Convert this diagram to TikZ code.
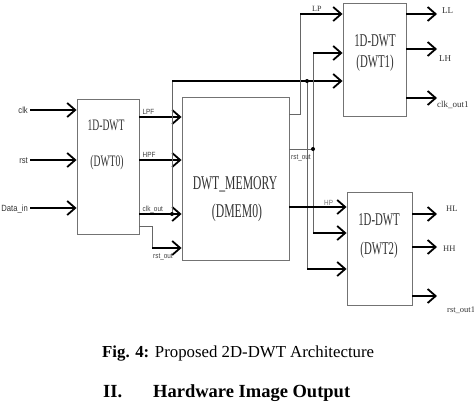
\documentclass[tikz,border=0pt]{standalone}
\usepackage{fontspec}
\setmainfont{Liberation Serif}
\newfontfamily\blkfont[FakeStretch=0.6]{Liberation Serif}
\newfontfamily\pinfont[FakeStretch=0.85]{Liberation Sans}
\usetikzlibrary{arrows.meta,positioning,calc}
\tikzset{
  blk/.style={draw=black!55,line width=0.9pt,inner sep=0pt},
  blktext/.style={font=\blkfont\fontsize{18}{20}\selectfont,text=black!80,anchor=base,inner sep=0pt},
  wire/.style={line width=2pt,-{Straight Barb[length=8pt,width=14pt,line width=1.8pt]}},
  riser/.style={draw=black!60,line width=1pt},
  pin/.style={font=\pinfont\fontsize{9}{10}\selectfont,text=black!80,inner sep=0pt},
  tinypin/.style={font=\pinfont\fontsize{7.5}{8}\selectfont,text=black!75,inner sep=0pt},
  outpin/.style={font=\fontsize{9}{10}\selectfont,text=black!80,inner sep=0pt,anchor=base west},
  joint/.style={circle,fill=black,inner sep=0pt,minimum size=4pt}
}
\begin{document}
\begin{tikzpicture}[x=1pt,y=-1pt]
\useasboundingbox (0,0) rectangle (474,402);
% blocks
\node[blk,minimum width=62pt,minimum height=135pt] (dwt0) at (108,166.5) {};
\node[blk,minimum width=107pt,minimum height=163pt] (dmem) at (235.5,178.5) {};
\node[blk,minimum width=63pt,minimum height=113pt] (dwt1) at (374.5,59.5) {};
\node[blk,minimum width=65pt,minimum height=113pt] (dwt2) at (379.5,248.5) {};
\node[blktext,font=\blkfont\fontsize{16}{18}\selectfont] (t0a) at (106,130) {1D-DWT};
\node[blktext,font=\blkfont\fontsize{16}{18}\selectfont] (t0b) at (107,166) {(DWT0)};
\node[blktext,font=\blkfont\fontsize{19.5}{22}\selectfont] (tma) at (235,189.5) {DWT\_MEMORY};
\node[blktext,font=\blkfont\fontsize{19.5}{22}\selectfont] (tmb) at (237,217.5) {(DMEM0)};
\node[blktext] (t1a) at (375,46) {1D-DWT};
\node[blktext] (t1b) at (375,67) {(DWT1)};
\node[blktext] (t2a) at (379,225) {1D-DWT};
\node[blktext] (t2b) at (379,254) {(DWT2)};

% inputs of DWT0
\foreach \y/\name/\txt in {110/clk/clk,160/rst/rst,208/din/Data\_in} {
  \coordinate (in\name) at (30,\y);
  \draw[wire] (in\name) -- (in\name -| dwt0.west);
  \node[pin,anchor=base east] (l\name) at ($(in\name)+(-2,3)$) {\txt};
}

% DWT0 -> DMEM0
\foreach \y/\name/\txt in {117/lpf/LPF,160/hpf/HPF,214/clko/clk\_out} {
  \coordinate (a\name) at (150,\y);
  \draw[wire] (a\name -| dwt0.east) -- (a\name -| dmem.west);
  \node[tinypin,anchor=base west] (l\name) at ($(a\name -| dwt0.east)+(3,-3)$) {\txt};
}
\coordinate (rst0) at (152,226);
\coordinate (rst1) at (152,248);
\draw[riser] (rst0 -| dwt0.east) -- (rst0) -- (rst1);
\draw[wire] (rst1) -- (rst1 -| dmem.west);
\node[tinypin,anchor=base west] (lrst0) at (153,258) {rst\_out};

% clock to DWT1 and DWT2
\coordinate (jclk) at (172,214);
\coordinate (cup) at (172,81);
\coordinate (jclk2) at (307,81);
\coordinate (cdn) at (307,269);
\draw[riser] (jclk) -- (cup);
\draw[wire] (cup) -- (cup -| dwt1.west);
\draw[riser] (jclk2) -- (cdn);
\draw[wire] (cdn) -- (cdn -| dwt2.west);
\node[joint] (dot1) at (jclk) {};
\node[joint] (dot2) at (jclk2) {};

% DMEM0 -> DWT1, DWT2
\coordinate (lp0) at (300,114);
\coordinate (lp1) at (300,14);
\draw[riser] (lp0 -| dmem.east) -- (lp0) -- (lp1);
\draw[wire] (lp1) -- (lp1 -| dwt1.west);
\node[outpin,font=\fontsize{8}{9}\selectfont] (llp) at (312,11) {LP};

\coordinate (jrst) at (313,149);
\coordinate (rup) at (313,53);
\coordinate (rdn) at (313,233);
\draw[riser] (jrst -| dmem.east) -- (jrst);
\draw[riser] (rup) -- (rdn);
\draw[wire] (rup) -- (rup -| dwt1.west);
\draw[wire] (rdn) -- (rdn -| dwt2.west);
\node[joint] (dot3) at (jrst) {};
\node[tinypin,anchor=base west] (lrst1) at (291,159) {rst\_out};

\coordinate (hp) at (330,207);
\draw[wire] (hp -| dmem.east) -- (hp -| dwt2.west);
\node[tinypin,anchor=base west,text=black!55] (lhp) at (324,205) {HP};

% outputs
\foreach \y/\name/\txt/\dx/\dy in {14/ll/LL/5/-1,49/lh/LH/2/12,98/ck/clk\_out1/0/9} {
  \coordinate (o\name) at (437,\y);
  \draw[wire] (o\name -| dwt1.east) -- (o\name);
  \node[outpin] (l\name) at ($(o\name)+(\dx,\dy)$) {\txt};
}
\foreach \y/\name/\txt/\dx/\dy in {214/hl/HL/9/-3,247/hh/HH/6/4,296/ro/rst\_out1/10/16} {
  \coordinate (o\name) at (437,\y);
  \draw[wire] (o\name -| dwt2.east) -- (o\name);
  \node[outpin,font=\fontsize{8.5}{9}\selectfont] (l\name) at ($(o\name)+(\dx,\dy)$) {\txt};
}

% caption
\node[anchor=base west,inner sep=0pt,font=\fontsize{16.8}{19}\selectfont] (cap) at (102,357) {\textbf{Fig. 4:} Proposed 2D-DWT Architecture};
\node[anchor=base west,inner sep=0pt,font=\bfseries\fontsize{18.5}{21}\selectfont] (secnum) at (103,397) {II.};
\node[anchor=base west,inner sep=0pt,font=\bfseries\fontsize{18.5}{21}\selectfont] (sec) at (153,397) {Hardware Image Output};
\end{tikzpicture}
\end{document}
